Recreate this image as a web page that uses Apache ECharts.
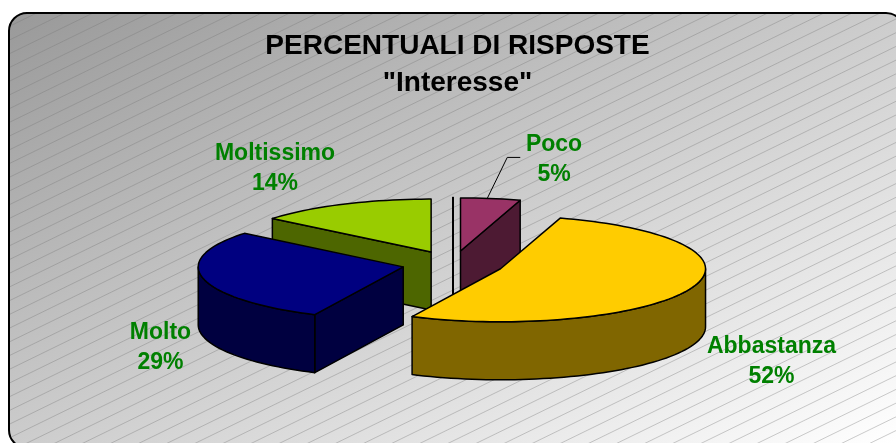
<!DOCTYPE html>
<html>
<head>
<meta charset="utf-8">
<style>
html, body { margin: 0; padding: 0; background: #fff; }
#main { width: 896px; height: 443px; }
</style>
<script src="https://cdn.jsdelivr.net/npm/echarts@6/dist/echarts.min.js"></script>
</head>
<body>
<div id="main"></div>
<script>
// dati
const categories = ['Per niente', 'Poco', 'Abbastanza', 'Molto', 'Moltissimo'];
const percentuali = [0, 4.7, 52.4, 28.8, 14.1];
const colori = ['#000000', '#993366', '#FFCC00', '#000080', '#99CC00'];
const coloriLato = ['#000000', '#4D1A33', '#806600', '#000040', '#4D6600'];
const titolo = 'PERCENTUALI DI RISPOSTE\n"Interesse"';

// geometria della torta
const pie = { cx: 453, cy: 264, rx: 205, ry: 53, depth: 58, explode: 51 };
// centro delle etichette
const labelPos = {
    Poco: [554, 160],
    Abbastanza: [771.5, 362],
    Molto: [160.5, 348],
    Moltissimo: [275, 169]
};
const rad = (d) => d * Math.PI / 180;

// parte dalle ore 12 e gira in senso orario
const startAngles = [];
percentuali.reduce((acc, v, i) => {
    startAngles[i] = acc;
    return acc + v * 3.6;
}, 270);

const renderSlice = (params, api) => {
    const i = params.dataIndex;
    const value = api.value(1);
    const t0 = startAngles[i];
    const t1 = t0 + value * 3.6;
    const mid = rad((t0 + t1) / 2);
    const cx = pie.cx + pie.explode * Math.cos(mid);
    const cy = pie.cy + pie.explode * pie.ry / pie.rx * Math.sin(mid);
    const rim = (deg) => [cx + pie.rx * Math.cos(rad(deg)), cy + pie.ry * Math.sin(rad(deg))];
    const down = (p) => [p[0], p[1] + pie.depth];
    const z2 = Math.round(cy);
    const border = { stroke: '#000', lineWidth: value === 0 ? 2 : 1.5, lineJoin: 'round' };
    const children = [];
    const wall = (deg) => {
        const a = rim(deg);
        children.push({
            type: 'polygon', z2: z2,
            shape: { points: [[cx, cy], a, down(a), [cx, cy + pie.depth]] },
            style: Object.assign({ fill: coloriLato[i] }, border)
        });
    };

    // pareti piane, solo quelle rivolte verso chi guarda
    if (value === 0 || Math.sin(rad(t0 - 90)) > 1e-6) wall(t0);
    if (value > 0 && Math.sin(rad(t1 + 90)) > 1e-6) wall(t1);

    // bordo curvo: la parte davanti dell'ellisse
    for (let k = 0; k < 2; k++) {
        const a = Math.max(t0, k * 360);
        const b = Math.min(t1, k * 360 + 180);
        if (b <= a) continue;
        const top = [];
        for (let d = a; d < b; d += 2) top.push(rim(d));
        top.push(rim(b));
        children.push({
            type: 'polygon', z2: z2,
            shape: { points: top.concat(top.map(down).reverse()) },
            style: Object.assign({ fill: coloriLato[i] }, border)
        });
    }

    // faccia superiore
    const face = [[cx, cy]];
    for (let d = t0; d < t1; d += 2) face.push(rim(d));
    face.push(rim(t1));
    children.push({
        type: 'polygon', z2: z2,
        shape: { points: face },
        style: Object.assign({ fill: colori[i] }, border)
    });

    // etichetta
    const pos = labelPos[api.value(0)];
    if (pos) {
        children.push({
            type: 'text', z2: 1000,
            x: pos[0], y: pos[1],
            style: {
                text: categories[i] + '\n' + Math.round(value) + '%',
                fill: '#008000',
                font: 'bold 23px "Liberation Sans", Arial, sans-serif',
                lineHeight: 30,
                align: 'center',
                verticalAlign: 'middle'
            }
        });
    }
    // linea guida di Poco
    if (categories[i] === 'Poco') {
        const a = rim(277.5);
        children.push({
            type: 'polyline', z2: 999,
            shape: { points: [a, [a[0] + 20, a[1] - 41], [a[0] + 33, a[1] - 41]] },
            style: { stroke: '#000', lineWidth: 1, fill: null }
        });
    }
    return { type: 'group', children: children };
};

// sfondo: cornice arrotondata con sfumatura e righe diagonali
const frame = { x: 9, y: 13, width: 895, height: 435, r: 18 };
const stripes = [];
for (let y0 = 12.3; y0 < 900; y0 += 13.72) {
    stripes.push({
        type: 'line',
        silent: true,
        z: 1,
        shape: { x1: 10, y1: y0, x2: 896, y2: y0 - 886 * 0.488 },
        style: { stroke: 'rgba(120,120,120,0.38)', lineWidth: 1 }
    });
}

const myChart = echarts.init(document.getElementById('main'), null, { renderer: 'canvas' });
myChart.setOption({
    animation: false,
    title: {
        text: titolo,
        left: 452.5,
        top: 23,
        textAlign: 'center',
        textStyle: {
            fontFamily: '"Liberation Sans", Arial, sans-serif',
            fontWeight: 'bold',
            fontSize: 28,
            lineHeight: 37,
            color: '#000'
        }
    },
    graphic: [
        {
            type: 'rect',
            silent: true,
            z: 0,
            shape: { x: frame.x, y: frame.y, width: frame.width, height: frame.height, r: frame.r },
            style: {
                // coordinate globali: le isolinee passano per gli angoli opposti
                fill: new echarts.graphic.LinearGradient(9, 13, 346, 708, [
                    { offset: 0, color: '#999999' },
                    { offset: 1, color: '#ffffff' }
                ], true),
                stroke: '#000',
                lineWidth: 2
            }
        },
        {
            type: 'group',
            z: 1,
            silent: true,
            clipPath: { type: 'rect', shape: { x: frame.x + 1, y: frame.y + 1, width: frame.width - 2, height: frame.height - 2, r: frame.r } },
            children: stripes
        }
    ],
    series: [{
        type: 'custom',
        coordinateSystem: 'none',
        silent: true,
        z: 5,
        renderItem: renderSlice,
        data: categories.map((c, i) => [c, percentuali[i]])
    }]
});
</script>
</body>
</html>
